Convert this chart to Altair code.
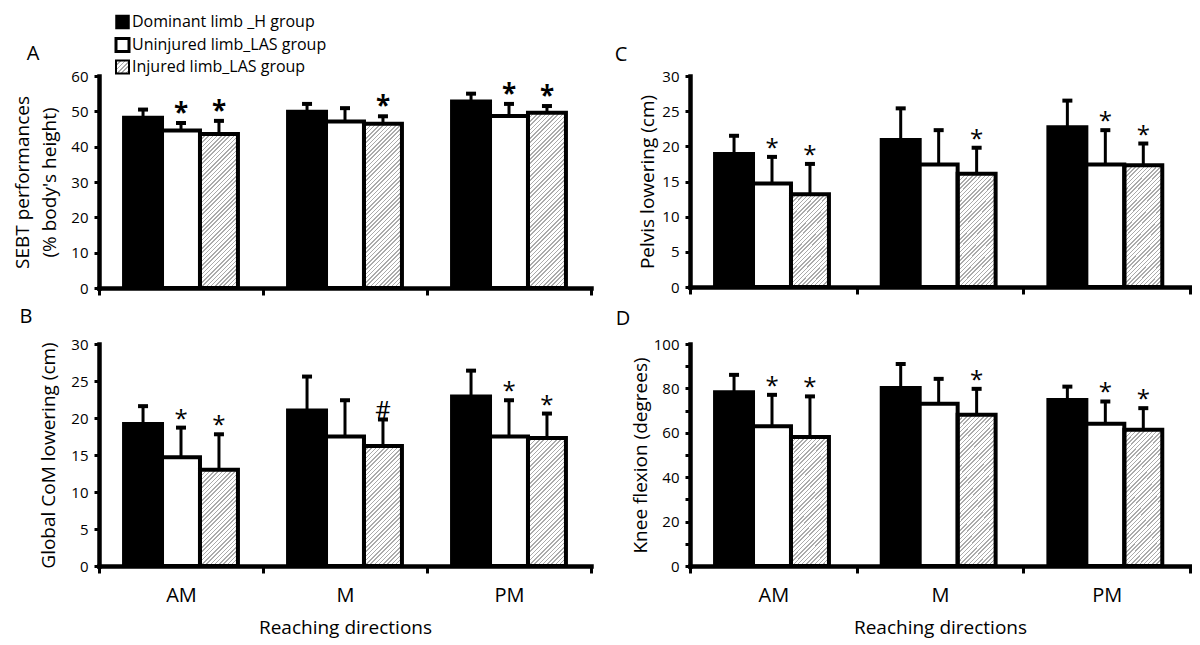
import math
import altair as alt
import pandas as pd

FONT = "Open Sans"

directions = ["AM", "M", "PM"]
groups = ["Dominant limb _H group", "Uninjured limb_LAS group", "Injured limb_LAS group"]

# ---- Panel A : SEBT performances (% body's height)
a_dominant = [48.2, 49.9, 52.8]
a_uninjured = [44.6, 47.1, 48.7]
a_injured = [43.6, 46.5, 49.6]
a_dominant_sd = [2.3, 2.2, 2.2]
a_uninjured_sd = [2.1, 3.8, 3.4]
a_injured_sd = [3.7, 2.1, 1.9]
a_sig_uninjured = ["*", "", "*"]
a_sig_injured = ["*", "*", "*"]

# ---- Panel B : Global CoM lowering (cm)
b_dominant = [19.2, 21.0, 22.9]
b_uninjured = [14.7, 17.5, 17.5]
b_injured = [13.0, 16.2, 17.3]
b_dominant_sd = [2.4, 4.6, 3.5]
b_uninjured_sd = [4.0, 4.9, 4.9]
b_injured_sd = [4.8, 3.6, 3.3]
b_sig_uninjured = ["*", "", "*"]
b_sig_injured = ["*", "#", "*"]

# ---- Panel C : Pelvis lowering (cm)
c_dominant = [18.9, 20.9, 22.7]
c_uninjured = [14.7, 17.4, 17.4]
c_injured = [13.2, 16.1, 17.3]
c_dominant_sd = [2.6, 4.5, 3.8]
c_uninjured_sd = [3.8, 4.9, 4.9]
c_injured_sd = [4.3, 3.7, 3.1]
c_sig_uninjured = ["*", "", "*"]
c_sig_injured = ["*", "*", "*"]

# ---- Panel D : Knee flexion (degrees)
d_dominant = [78.3, 80.2, 74.8]
d_uninjured = [62.9, 73.1, 64.1]
d_injured = [58.1, 68.1, 61.4]
d_dominant_sd = [7.8, 10.8, 6.0]
d_uninjured_sd = [14.2, 11.2, 10.0]
d_injured_sd = [18.3, 11.7, 9.7]
d_sig_uninjured = ["*", "", "*"]
d_sig_injured = ["*", "*", "*"]


def make_df(means, sds, sigs, ymax):
    rows = []
    for gi, g in enumerate(groups):
        for di, d in enumerate(directions):
            rows.append(dict(direction=d, group=g, mean=means[gi][di],
                             top=means[gi][di] + sds[gi][di], sig=sigs[gi][di], ymax=ymax))
    return pd.DataFrame(rows)


def hatch(w, h, period=3.0, frac=0.36, c1="#ababab", c2="#ffffff"):
    k = (w + h) / (w * w + h * h)
    n = max(1, int(round((w + h) / (math.sqrt(2) * period))))
    stops = []
    for i in range(n):
        a = round(i / n, 5)
        b = round((i + frac) / n, 5)
        c = round((i + 1) / n, 5)
        stops += [{"offset": a, "color": c1}, {"offset": b, "color": c1},
                  {"offset": b, "color": c2}, {"offset": c, "color": c2}]
    return {"gradient": "linear", "x1": 0, "y1": 0,
            "x2": round(k * w, 5), "y2": round(k * h, 5), "stops": stops}


PAD_OUTER = 0.66


def panel(letter, df, ymax, ystep, width, height, ytitle, bottom, bold,
          title_pad, letter_pos, minor=False, legend=False):
    xscale = alt.Scale(domain=directions, paddingInner=0, paddingOuter=0)
    xaxis = alt.Axis(
        title="Reaching directions" if bottom else None,
        labels=bottom, labelAngle=0, tickBand="extent",
        domainWidth=4.5, domainColor="black", domainCap="square",
        tickWidth=3, tickSize=7, tickColor="black",
        labelFontSize=20, labelPadding=12, labelFont=FONT, labelColor="black",
        titleFontSize=19, titlePadding=13, titleFont=FONT, titleFontWeight="normal",
        titleColor="black",
    )
    X = alt.X("direction:N", scale=xscale, axis=xaxis)
    XO = alt.XOffset("group:N", scale=alt.Scale(domain=groups, paddingInner=0,
                                                 paddingOuter=PAD_OUTER))
    if minor:
        yvals = list(range(0, ymax + 1, ystep // 2))
        lab = f"datum.value % {ystep} == 0 ? datum.label : ''"
    else:
        yvals = list(range(0, ymax + 1, ystep))
        lab = "datum.label"
    yaxis = alt.Axis(
        values=yvals, labelExpr=lab, title=ytitle, grid=False, labelOverlap=False,
        domainWidth=4.5, domainColor="black", domainCap="square",
        tickWidth=3, tickSize=5, tickColor="black",
        labelFontSize=15, labelPadding=6, labelFont=FONT, labelColor="black",
        titleFontSize=19, titlePadding=title_pad, titleFont=FONT,
        titleFontWeight="normal", titleColor="black", titleLineHeight=27,
    )
    yscale = alt.Scale(domain=[0, ymax], nice=False)

    def Y(field):
        return alt.Y(field, scale=yscale, axis=yaxis, title=ytitle)

    base = alt.Chart(df).encode(x=X, xOffset=XO)
    bar_w = (width / 3) / (3 + 2 * PAD_OUTER)
    inj = alt.datum.group == groups[2]

    hatch_layer = base.transform_filter(inj).mark_bar(
        fill=hatch(bar_w, height), strokeWidth=0
    ).encode(y=Y("ymax:Q"), y2=alt.datum(0))
    cover = base.transform_filter(inj).mark_bar(
        fill="white", stroke="white", strokeWidth=1.5).encode(
        y=Y("ymax:Q"), y2="mean:Q")
    bars = base.mark_bar(stroke="black", strokeWidth=4).encode(
        y=Y("mean:Q"),
        fill=alt.Fill("group:N", scale=alt.Scale(domain=groups,
                                                 range=["black", "white", "transparent"]),
                      legend=None),
    )
    stems = base.mark_bar(size=3, color="black").encode(y=Y("top:Q"), y2="mean:Q")
    caps = base.mark_tick(color="black", thickness=4, size=10, opacity=1).encode(y=Y("top:Q"))
    stars = base.mark_text(font=FONT, fontSize=26 if bold else 24,
                           fontWeight="bold" if bold else "normal",
                           baseline="alphabetic", dy=-1, color="black").encode(
        y=Y("top:Q"), text="sig:N")
    lab_layer = alt.Chart(pd.DataFrame({"t": [letter]})).mark_text(
        font=FONT, fontSize=20, align="center", baseline="middle", color="black"
    ).encode(x=alt.value(letter_pos[0]), y=alt.value(letter_pos[1]), text="t:N")

    layers = [hatch_layer, cover, bars, stems, caps, stars, lab_layer]

    if legend:
        rows_y = [-54, -31, -9]
        fills = ["black", "white", hatch(13, 13, period=3.0)]
        strokes_w = [1.5, 3, 2]
        for i, g in enumerate(groups):
            ldf = pd.DataFrame({"label": [g]})
            sq = alt.Chart(ldf).mark_square(
                size=169, fill=fills[i], stroke="black", strokeWidth=strokes_w[i], opacity=1
            ).encode(x=alt.value(23.5), y=alt.value(rows_y[i]))
            tx = alt.Chart(ldf).mark_text(
                font=FONT, fontSize=16, align="left", baseline="middle", color="black"
            ).encode(x=alt.value(33), y=alt.value(rows_y[i]), text="label:N")
            layers += [sq, tx]

    return alt.layer(*layers).properties(width=width, height=height)


dfA = make_df([a_dominant, a_uninjured, a_injured],
              [a_dominant_sd, a_uninjured_sd, a_injured_sd],
              [["", "", ""], a_sig_uninjured, a_sig_injured], 60)
dfB = make_df([b_dominant, b_uninjured, b_injured],
              [b_dominant_sd, b_uninjured_sd, b_injured_sd],
              [["", "", ""], b_sig_uninjured, b_sig_injured], 30)
dfC = make_df([c_dominant, c_uninjured, c_injured],
              [c_dominant_sd, c_uninjured_sd, c_injured_sd],
              [["", "", ""], c_sig_uninjured, c_sig_injured], 30)
dfD = make_df([d_dominant, d_uninjured, d_injured],
              [d_dominant_sd, d_uninjured_sd, d_injured_sd],
              [["", "", ""], d_sig_uninjured, d_sig_injured], 100)

pA = panel("A", dfA, 60, 10, 492, 212, ["SEBT performances", "(% body's height)"],
           False, True, 11, (-66, -22), legend=True)
pC = panel("C", dfC, 30, 5, 500, 211, "Pelvis lowering (cm)", False, False, 4, (-69, -21))
pB = panel("B", dfB, 30, 5, 492, 222, "Global CoM lowering (cm)", True, False, 12, (-73, -27))
pD = panel("D", dfD, 100, 20, 500, 222, "Knee flexion (degrees)", True, False, 3,
           (-67, -25), minor=True)

chart = alt.concat(pA, pC, pB, pD, columns=2, spacing={"row": 56, "column": 99},
                   bounds="flush", align="each").properties(
    padding={"left": 5, "top": 4, "right": 0, "bottom": 4}
).configure_view(stroke=None)

chart.save("out.html", embed_options={"renderer": "svg", "actions": False})
